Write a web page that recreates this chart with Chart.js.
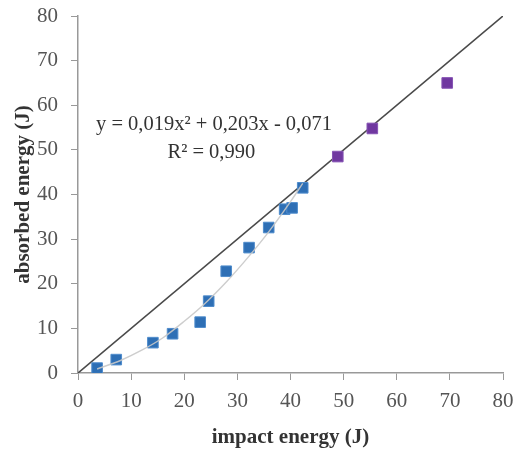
<!DOCTYPE html>
<html><head><meta charset="utf-8">
<script src="https://cdn.jsdelivr.net/npm/chart.js@4"></script>
<style>html,body{margin:0;padding:0;background:#fff}#c{display:block}</style>
</head><body>
<canvas id="c" width="515" height="450"></canvas>
<script>
const blueX = [3.6, 7.2, 14.1, 17.8, 23.0, 24.6, 27.9, 32.2, 35.9, 38.9, 40.3, 42.3];
const blueY = [1.1, 3.0, 6.8, 8.8, 11.4, 16.1, 22.8, 28.1, 32.6, 36.7, 37.0, 41.5];
const purpleX = [48.9, 55.4, 69.5];
const purpleY = [48.5, 54.8, 65.0];
const trendX = [3.6, 8, 12, 16, 20, 24, 28, 32, 36, 40, 42.3];
const trendY = [0.9, 2.8, 5.1, 7.9, 11.6, 15.7, 20.5, 25.9, 31.8, 38.4, 42.5];
const refX = [0, 80];
const refY = [0, 80];
const xTicks = [0,10,20,30,40,50,60,70,80];
const yTicks = [0,10,20,30,40,50,60,70,80];
const eqLines = ["y = 0,019x\u00B2 + 0,203x - 0,071", "R\u00B2 = 0,990"];

const pts = (xs, ys) => xs.map((x, i) => ({x, y: ys[i]}));
const serif = "'Liberation Serif', 'DejaVu Serif', serif";

const eqPlugin = {
  id: 'eq',
  afterDatasetsDraw(chart) {
    const {ctx, scales: {x, y}} = chart;
    ctx.save();
    ctx.fillStyle = '#333';
    ctx.font = "20.5px " + serif;
    ctx.textAlign = 'center';
    ctx.textBaseline = 'middle';
    ctx.fillText(eqLines[0], x.getPixelForValue(25.6), y.getPixelForValue(55.6));
    ctx.fillText(eqLines[1], x.getPixelForValue(25.1), y.getPixelForValue(49.3));
    ctx.restore();
  }
};

new Chart(document.getElementById('c'), {
  type: 'scatter',
  data: {
    datasets: [
      { data: pts(refX, refY), showLine: true, borderColor: '#4a4a4a', borderWidth: 1.6, pointRadius: 0, order: 3 },
      { data: pts(trendX, trendY), showLine: true, borderColor: 'rgba(200,200,200,0.9)', borderWidth: 1.4, pointRadius: 0, cubicInterpolationMode: 'monotone', order: 0 },
      { data: pts(blueX, blueY), pointStyle: 'rect', pointRadius: 7.5, backgroundColor: '#2e6fb5', borderColor: '#4f8ccc', borderWidth: 1, order: 1 },
      { data: pts(purpleX, purpleY), pointStyle: 'rect', pointRadius: 7.5, backgroundColor: '#7038a0', borderColor: '#8654b4', borderWidth: 1, order: 1 }
    ]
  },
  options: {
    responsive: false,
    animation: false,
    layout: { padding: { left: 0, right: 0, top: 0, bottom: 0 } },
    plugins: { legend: { display: false }, tooltip: { enabled: false } },
    scales: {
      x: {
        type: 'linear', min: 0, max: 80,
        afterBuildTicks: s => { s.ticks = xTicks.map(v => ({value: v})); },
        afterFit: s => { s.paddingRight = 12; s.height = 77; },
        ticks: { color: '#555', font: { family: serif, size: 21 }, padding: 9, maxRotation: 0 },
        grid: { drawOnChartArea: false, tickLength: 7, color: '#999' },
        border: { color: '#999', width: 1.5 },
        title: { display: true, text: 'impact energy (J)', color: '#333', font: { family: serif, size: 21, weight: 'bold' }, padding: { top: 2, bottom: 0 } }
      },
      y: {
        type: 'linear', min: 0, max: 80,
        afterBuildTicks: s => { s.ticks = yTicks.map(v => ({value: v})); },
        afterFit: s => { s.paddingTop = 16; s.width = 78; },
        ticks: { color: '#555', font: { family: serif, size: 21 }, padding: 13 },
        grid: { drawOnChartArea: false, tickLength: 7, color: '#999' },
        border: { color: '#999', width: 1.5 },
        title: { display: true, text: 'absorbed energy (J)', color: '#333', font: { family: serif, size: 21, weight: 'bold' }, padding: { top: 11, bottom: 0 } }
      }
    }
  },
  plugins: [eqPlugin]
});
</script>
</body></html>
